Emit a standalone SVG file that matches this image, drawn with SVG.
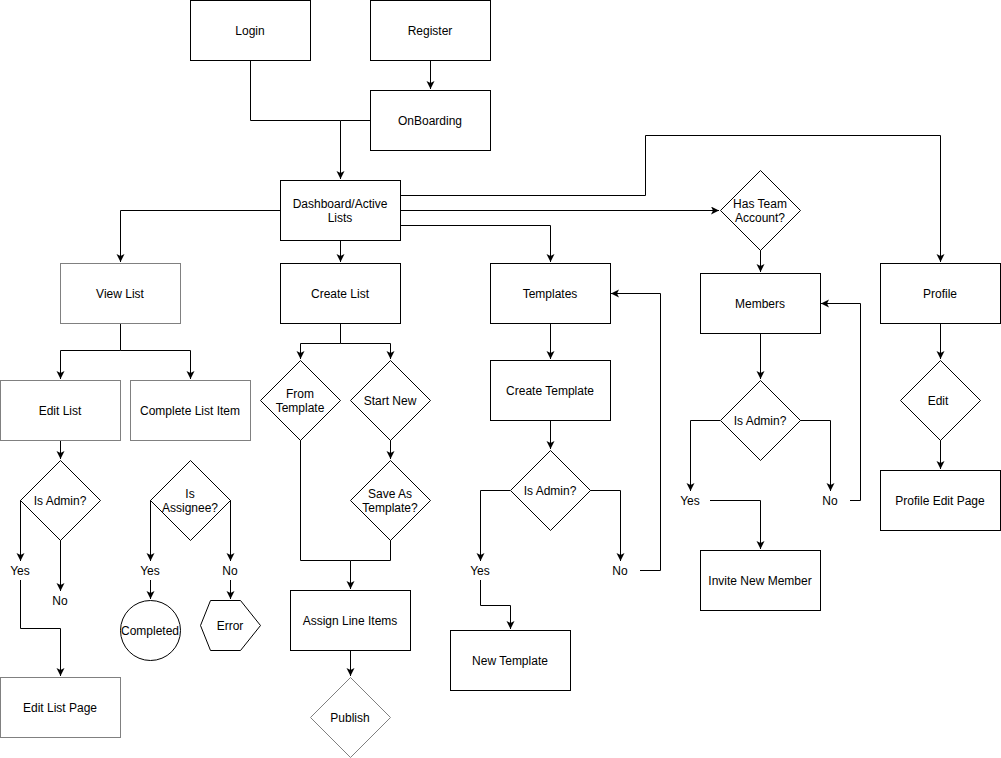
<svg xmlns="http://www.w3.org/2000/svg" width="1001" height="758" viewBox="0 0 1001 758">
<style>
.n{fill:#fff;stroke:#000;stroke-width:1}
.g{fill:#fff;stroke:#808080;stroke-width:1}
.e{fill:none;stroke:#000;stroke-width:1}
text{font-family:"Liberation Sans",Arial,sans-serif;font-size:12px;fill:#000;text-anchor:middle;dominant-baseline:central}
</style>
<defs>
<marker id="a" markerWidth="10" markerHeight="10" refX="8" refY="4" orient="auto" markerUnits="userSpaceOnUse">
<path d="M0,0 L8,4 L0,8 L2,4 z" fill="#000"/>
</marker>
</defs>
<rect width="1001" height="758" fill="#fff"/>
<g id="connectors">
<path class="e" d="M250.5,60 V120.5 H340.5"/>
<path class="e" d="M370,120.5 H340.5 V179" marker-end="url(#a)"/>
<path class="e" d="M430.5,60 V89" marker-end="url(#a)"/>
<path class="e" d="M400,195.5 H645.5 V135.5 H940.5 V262" marker-end="url(#a)"/>
<path class="e" d="M400,210.5 H719" marker-end="url(#a)"/>
<path class="e" d="M400,225.5 H550.5 V262" marker-end="url(#a)"/>
<path class="e" d="M280,210.5 H120.5 V262" marker-end="url(#a)"/>
<path class="e" d="M340.5,240 V262" marker-end="url(#a)"/>
<path class="e" d="M760.5,250 V272" marker-end="url(#a)"/>
<path class="e" d="M120.5,323 V350.5 H60.5 V379" marker-end="url(#a)"/>
<path class="e" d="M120.5,350.5 H190.5 V379" marker-end="url(#a)"/>
<path class="e" d="M60.5,440 V459" marker-end="url(#a)"/>
<path class="e" d="M20.5,500 V561" marker-end="url(#a)"/>
<path class="e" d="M60.5,540 V591" marker-end="url(#a)"/>
<path class="e" d="M20.5,580 V628.5 H60.5 V676" marker-end="url(#a)"/>
<path class="e" d="M150.5,500 V561" marker-end="url(#a)"/>
<path class="e" d="M230.5,500 V561" marker-end="url(#a)"/>
<path class="e" d="M150.5,580 V599" marker-end="url(#a)"/>
<path class="e" d="M230.5,580 V599" marker-end="url(#a)"/>
<path class="e" d="M340.5,323 V343.5 H300.5 V359" marker-end="url(#a)"/>
<path class="e" d="M340.5,343.5 H390.5 V359" marker-end="url(#a)"/>
<path class="e" d="M390.5,440 V459" marker-end="url(#a)"/>
<path class="e" d="M300.5,440 V560.5 H350.5"/>
<path class="e" d="M390.5,540 V560.5 H350.5 V589" marker-end="url(#a)"/>
<path class="e" d="M350.5,650 V676" marker-end="url(#a)"/>
<path class="e" d="M550.5,323 V359" marker-end="url(#a)"/>
<path class="e" d="M550.5,420 V449" marker-end="url(#a)"/>
<path class="e" d="M510,490.5 H480.5 V561" marker-end="url(#a)"/>
<path class="e" d="M590,490.5 H620.5 V561" marker-end="url(#a)"/>
<path class="e" d="M640,570.5 H660.5 V293.5 H611" marker-end="url(#a)"/>
<path class="e" d="M480.5,580 V605.5 H510.5 V629" marker-end="url(#a)"/>
<path class="e" d="M760.5,333 V379" marker-end="url(#a)"/>
<path class="e" d="M720,420.5 H690.5 V491" marker-end="url(#a)"/>
<path class="e" d="M800,420.5 H830.5 V491" marker-end="url(#a)"/>
<path class="e" d="M850,500.5 H860.5 V303.5 H821" marker-end="url(#a)"/>
<path class="e" d="M710,500.5 H760.5 V549" marker-end="url(#a)"/>
<path class="e" d="M940.5,323 V359" marker-end="url(#a)"/>
<path class="e" d="M940.5,440 V469" marker-end="url(#a)"/>
</g>
<g id="login"><rect class="n" x="190.5" y="0.5" width="120" height="60"/><text x="250" y="31">Login</text></g>
<g id="register"><rect class="n" x="370.5" y="0.5" width="120" height="60"/><text x="430" y="31">Register</text></g>
<g id="onboarding"><rect class="n" x="370.5" y="90.5" width="120" height="60"/><text x="430" y="121">OnBoarding</text></g>
<g id="dashboard"><rect class="n" x="280.5" y="180.5" width="120" height="60"/><text x="340" y="204">Dashboard/Active</text><text x="340" y="218">Lists</text></g>
<g id="viewlist"><rect class="g" x="60.5" y="263.5" width="120" height="60"/><text x="120" y="294">View List</text></g>
<g id="createlist"><rect class="n" x="280.5" y="263.5" width="120" height="60"/><text x="340" y="294">Create List</text></g>
<g id="templates"><rect class="n" x="490.5" y="263.5" width="120" height="60"/><text x="550" y="294">Templates</text></g>
<g id="hasteam"><path class="n" d="M760.5,170.5 L800.5,210.5 L760.5,250.5 L720.5,210.5 Z"/><text x="760" y="204">Has Team</text><text x="760" y="218">Account?</text></g>
<g id="members"><rect class="n" x="700.5" y="273.5" width="120" height="60"/><text x="760" y="304">Members</text></g>
<g id="profile"><rect class="n" x="880.5" y="263.5" width="120" height="60"/><text x="940" y="294">Profile</text></g>
<g id="editlist"><rect class="g" x="0.5" y="380.5" width="120" height="60"/><text x="60" y="411">Edit List</text></g>
<g id="completeitem"><rect class="g" x="130.5" y="380.5" width="120" height="60"/><text x="190" y="411">Complete List Item</text></g>
<g id="isadmin1"><path class="n" d="M60.5,460.5 L100.5,500.5 L60.5,540.5 L20.5,500.5 Z"/><text x="60" y="501">Is Admin?</text></g>
<g id="yes1"><text x="20" y="571">Yes</text></g>
<g id="no1"><text x="60" y="601">No</text></g>
<g id="editlistpage"><rect class="g" x="0.5" y="677.5" width="120" height="60"/><text x="60" y="708">Edit List Page</text></g>
<g id="isassignee"><path class="n" d="M190.5,460.5 L230.5,500.5 L190.5,540.5 L150.5,500.5 Z"/><text x="190" y="494">Is</text><text x="190" y="508">Assignee?</text></g>
<g id="yes2"><text x="150" y="571">Yes</text></g>
<g id="no2"><text x="230" y="571">No</text></g>
<g id="completed"><circle class="n" cx="150.5" cy="630.5" r="30"/><text x="150" y="631">Completed</text></g>
<g id="error"><path class="n" d="M210.5,600.5 L240.5,600.5 L260.5,625.5 L240.5,650.5 L210.5,650.5 L200.5,625.5 Z"/><text x="230" y="626">Error</text></g>
<g id="fromtemplate"><path class="n" d="M300.5,360.5 L340.5,400.5 L300.5,440.5 L260.5,400.5 Z"/><text x="300" y="394">From</text><text x="300" y="408">Template</text></g>
<g id="startnew"><path class="n" d="M390.5,360.5 L430.5,400.5 L390.5,440.5 L350.5,400.5 Z"/><text x="390" y="401">Start New</text></g>
<g id="saveas"><path class="n" d="M390.5,460.5 L430.5,500.5 L390.5,540.5 L350.5,500.5 Z"/><text x="390" y="494">Save As</text><text x="390" y="508">Template?</text></g>
<g id="assign"><rect class="n" x="290.5" y="590.5" width="120" height="60"/><text x="350" y="621">Assign Line Items</text></g>
<g id="publish"><path class="g" d="M350.5,677.5 L390.5,717.5 L350.5,757.5 L310.5,717.5 Z"/><text x="350" y="718">Publish</text></g>
<g id="createtemplate"><rect class="n" x="490.5" y="360.5" width="120" height="60"/><text x="550" y="391">Create Template</text></g>
<g id="isadmin2"><path class="n" d="M550.5,450.5 L590.5,490.5 L550.5,530.5 L510.5,490.5 Z"/><text x="550" y="491">Is Admin?</text></g>
<g id="yes3"><text x="480" y="571">Yes</text></g>
<g id="no3"><text x="620" y="571">No</text></g>
<g id="newtemplate"><rect class="n" x="450.5" y="630.5" width="120" height="60"/><text x="510" y="661">New Template</text></g>
<g id="isadmin3"><path class="n" d="M760.5,380.5 L800.5,420.5 L760.5,460.5 L720.5,420.5 Z"/><text x="760" y="421">Is Admin?</text></g>
<g id="yes4"><text x="690" y="501">Yes</text></g>
<g id="no4"><text x="830" y="501">No</text></g>
<g id="invite"><rect class="n" x="700.5" y="550.5" width="120" height="60"/><text x="760" y="581">Invite New Member</text></g>
<g id="edit"><path class="n" d="M940.5,360.5 L980.5,400.5 L940.5,440.5 L900.5,400.5 Z"/><text x="938" y="401">Edit</text></g>
<g id="profileedit"><rect class="n" x="880.5" y="470.5" width="120" height="60"/><text x="940" y="501">Profile Edit Page</text></g>
</svg>
